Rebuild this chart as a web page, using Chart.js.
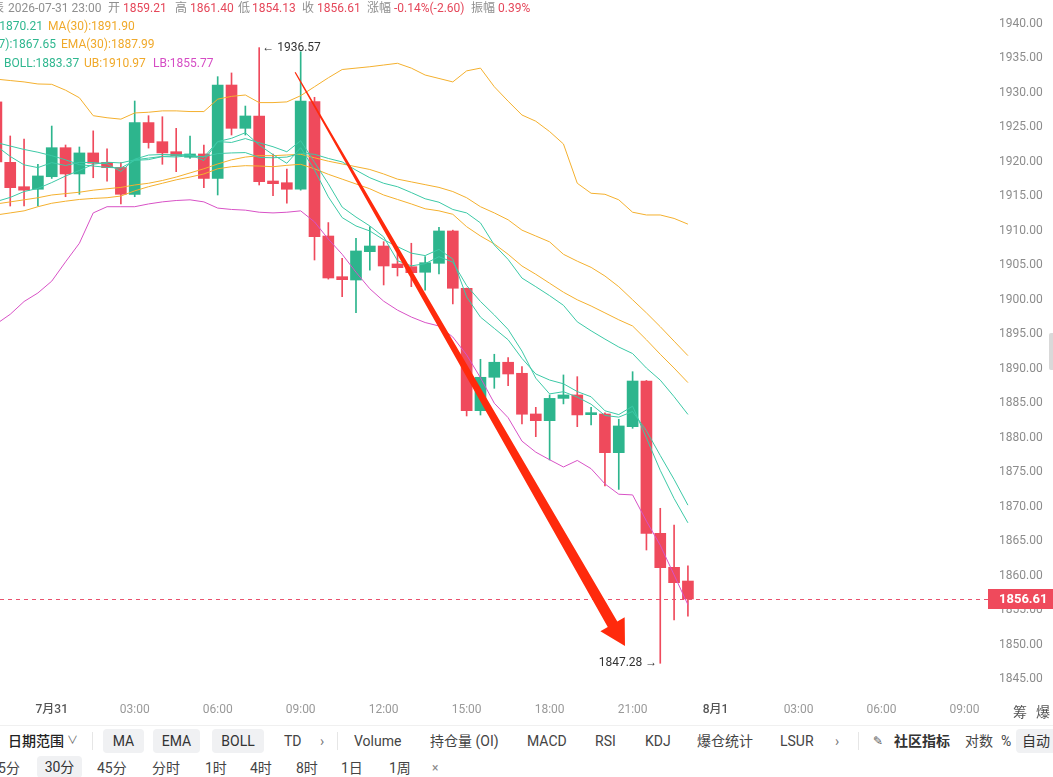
<!DOCTYPE html>
<html>
<head>
<meta charset="utf-8">
<script src="https://cdn.jsdelivr.net/npm/chart.js@4.4.1/dist/chart.umd.min.js"></script>
<style>
  body { margin: 0; width: 1053px; height: 777px; overflow: hidden; background: #fff; position: relative;
         font-family: Roboto, "Noto Sans CJK SC", sans-serif; }
  #c { position: absolute; left: 0; top: -40px; }
  .t { position: absolute; white-space: nowrap; font-size: 12px; line-height: 16px; }
  .g { color: #8f8f8f; }
  .r { color: #e5475a; }
  .teal { color: #2fb78f; }
  .org { color: #f0a92a; }
  .pink { color: #d54cc4; }
  .bar { position: absolute; white-space: nowrap; font-size: 14px; line-height: 20px; color: #444; }
  .btn { position: absolute; background: #f0f1f3; border-radius: 4px; font-size: 14px; color: #333;
         text-align: center; line-height: 24px; height: 24px; top: 729px; }
  .sep { position: absolute; top: 732px; width: 1px; height: 18px; background: #e6e6e6; }
</style>
</head>
<body>
<canvas id="c" width="1053" height="765"></canvas>

<!-- header -->
<div class="t g" style="right:1049px;top:0">表</div>
<div class="t g" style="left:8px;top:0">2026-07-31 23:00</div>
<div class="t g" style="left:108px;top:0">开</div><div class="t r" style="left:123px;top:0">1859.21</div>
<div class="t g" style="left:175px;top:0">高</div><div class="t r" style="left:190px;top:0">1861.40</div>
<div class="t g" style="left:238px;top:0">低</div><div class="t r" style="left:252px;top:0">1854.13</div>
<div class="t g" style="left:302px;top:0">收</div><div class="t r" style="left:317px;top:0">1856.61</div>
<div class="t g" style="left:367px;top:0">涨幅</div><div class="t r" style="left:394px;top:0">-0.14%(-2.60)</div>
<div class="t g" style="left:471px;top:0">振幅</div><div class="t r" style="left:498px;top:0">0.39%</div>

<div class="t teal" style="right:1010px;top:18px">MA(7):1870.21</div>
<div class="t org" style="left:48px;top:18px">MA(30):1891.90</div>
<div class="t teal" style="right:997px;top:36px">EMA(7):1867.65</div>
<div class="t org" style="left:61px;top:36px">EMA(30):1887.99</div>
<div class="t teal" style="left:4px;top:55px">BOLL:1883.37</div>
<div class="t org" style="left:84px;top:55px">UB:1910.97</div>
<div class="t pink" style="left:153px;top:55px">LB:1855.77</div>

<div style="position:absolute;left:1049px;top:333px;width:4px;height:37px;background:#d9d9d9;border-radius:2px 0 0 2px"></div>

<!-- toolbar -->
<div class="bar" style="left:1013px;top:702px;color:#555">筹</div>
<div class="bar" style="left:1036px;top:702px;color:#555">爆</div>
<div style="position:absolute;left:0;top:725px;width:1053px;height:1px;background:#f0f0f0"></div>

<div class="bar" style="left:8px;top:731px;color:#222;font-weight:500">日期范围</div>
<div class="bar" style="left:67px;top:731px;font-size:11px;color:#666">∨</div>
<div class="sep" style="left:92px"></div>
<div class="btn" style="left:103px;width:41px">MA</div>
<div class="btn" style="left:153px;width:47px">EMA</div>
<div class="btn" style="left:212px;width:52px">BOLL</div>
<div class="bar" style="left:284px;top:731px">TD</div>
<div class="bar" style="left:320px;top:731px;color:#777">›</div>
<div class="sep" style="left:337px"></div>
<div class="bar" style="left:354px;top:731px">Volume</div>
<div class="bar" style="left:430px;top:731px">持仓量 (OI)</div>
<div class="bar" style="left:527px;top:731px">MACD</div>
<div class="bar" style="left:595px;top:731px">RSI</div>
<div class="bar" style="left:645px;top:731px">KDJ</div>
<div class="bar" style="left:697px;top:731px">爆仓统计</div>
<div class="bar" style="left:780px;top:731px">LSUR</div>
<div class="bar" style="left:835px;top:731px;color:#777">›</div>
<div class="sep" style="left:858px"></div>
<div class="bar" style="left:873px;top:731px;font-family:'DejaVu Sans';font-size:12px;color:#555">✎</div>
<div class="bar" style="left:894px;top:731px;font-weight:700;color:#333">社区指标</div>
<div class="bar" style="left:965px;top:731px">对数</div>
<div class="bar" style="left:1001px;top:731px">%</div>
<div class="btn" style="left:1016px;width:40px">自动</div>

<div class="bar" style="right:1033px;top:758px">15分</div>
<div class="btn" style="left:37px;width:45px;top:756px;height:22px;line-height:22px">30分</div>
<div class="bar" style="left:97px;top:758px">45分</div>
<div class="bar" style="left:152px;top:758px">分时</div>
<div class="bar" style="left:205px;top:758px">1时</div>
<div class="bar" style="left:250px;top:758px">4时</div>
<div class="bar" style="left:296px;top:758px">8时</div>
<div class="bar" style="left:341px;top:758px">1日</div>
<div class="bar" style="left:389px;top:758px">1周</div>
<div class="bar" style="left:432px;top:758px;font-size:12px;color:#888">×</div>

<script>
// candle index 0 = 7/31 00:00, one step = 30 min; first candle is 7/30 22:00
const FIRST = -4;

const opens = [1928.7, 1919.94, 1916.4, 1916.03, 1917.85, 1922.06, 1918.25, 1921.3, 1919.94, 1919.2,
  1915.3, 1925.7, 1922.93, 1921.48, 1920.67, 1921.15, 1917.6, 1931.15, 1924.87, 1926.66,
  1917.23, 1916.98, 1916.03, 1928.73, 1909.25, 1903.35, 1902.87, 1906.98, 1907.8, 1905.2,
  1904.8, 1903.99, 1905.29, 1909.98, 1901.67, 1883.92, 1888.76, 1890.94, 1889.34, 1883.44,
  1882.47, 1885.7, 1886.2, 1883.34, 1883.44, 1877.83, 1881.6, 1888.22, 1866.13, 1861.2, 1859.21];
const highs = [1929.5, 1923.76, 1923.3, 1919.65, 1925.2, 1922.45, 1922.16, 1924.5, 1921.9, 1919.9,
  1928.83, 1926.7, 1926.55, 1924.87, 1923.76, 1922.45, 1932.36, 1932.9, 1928.1, 1936.57,
  1921.15, 1918.97, 1935.98, 1929.37, 1911.2, 1906.02, 1908.92, 1910.6, 1908.43, 1906.75,
  1908.2, 1906.25, 1910.5, 1910.1, 1901.7, 1891.37, 1892.1, 1891.6, 1890.3, 1884.4,
  1886.2, 1889.1, 1888.85, 1884.4, 1883.6, 1882.67, 1889.57, 1888.3, 1869.76, 1867.34, 1861.4];
const lows = [1918.8, 1913.6, 1913.6, 1913.6, 1917.6, 1914.95, 1915.3, 1917.7, 1917.2, 1913.9,
  1914.95, 1922.0, 1919.65, 1918.58, 1920.5, 1916.26, 1915.2, 1923.9, 1923.9, 1916.65,
  1915.1, 1914.0, 1915.9, 1905.77, 1903.0, 1900.45, 1898.13, 1904.3, 1902.15, 1903.45,
  1901.9, 1901.4, 1903.74, 1899.4, 1883.15, 1883.29, 1887.16, 1887.54, 1882.0, 1880.15,
  1876.77, 1884.9, 1881.6, 1881.84, 1873.0, 1872.5, 1881.36, 1863.71, 1847.28, 1853.56, 1854.13];
const closes = [1920.0, 1916.26, 1915.9, 1917.96, 1922.06, 1918.25, 1921.3, 1919.8, 1919.16, 1915.3,
  1925.7, 1922.8, 1921.3, 1920.9, 1921.15, 1917.6, 1931.15, 1924.87, 1926.66, 1917.13,
  1916.84, 1916.03, 1928.83, 1909.15, 1903.16, 1902.92, 1907.08, 1907.8, 1904.9, 1904.66,
  1903.93, 1905.38, 1909.98, 1901.67, 1883.92, 1888.76, 1890.94, 1889.24, 1883.4, 1882.47,
  1885.7, 1886.2, 1883.3, 1883.63, 1877.83, 1881.7, 1888.22, 1866.13, 1861.15, 1858.97, 1856.61];

const ma7 = [1922.8, 1922.3, 1921.8, 1921.4, 1920.9, 1920.3, 1919.6, 1919.4, 1919.2, 1919.12,
  1920.22, 1920.33, 1920.77, 1920.71, 1920.9, 1920.68, 1922.94, 1922.82, 1923.38, 1922.78,
  1922.2, 1921.47, 1923.07, 1919.93, 1916.83, 1913.44, 1912.0, 1910.71, 1909.12, 1905.67,
  1904.92, 1905.24, 1906.25, 1905.47, 1902.06, 1899.76, 1897.8, 1895.7, 1892.56, 1888.63,
  1886.35, 1886.67, 1885.89, 1884.85, 1883.22, 1882.98, 1883.8, 1881.0, 1877.42, 1873.95, 1870.21];
const ema7 = [1922.3, 1920.79, 1919.57, 1919.17, 1919.89, 1919.48, 1919.93, 1919.9, 1919.72, 1918.61,
  1920.39, 1920.99, 1921.07, 1921.03, 1921.06, 1920.2, 1922.94, 1923.42, 1924.23, 1922.45,
  1921.05, 1919.8, 1922.06, 1918.84, 1914.92, 1911.92, 1910.71, 1909.98, 1908.71, 1907.7,
  1906.76, 1906.41, 1907.31, 1905.9, 1900.41, 1897.49, 1895.85, 1894.2, 1891.5, 1889.24,
  1888.36, 1887.82, 1886.69, 1885.93, 1883.9, 1883.35, 1884.57, 1879.96, 1875.26, 1871.18, 1867.65];
const ma30 = [1913.9, 1914.2, 1914.5, 1914.8, 1915.2, 1915.4, 1915.6, 1915.9, 1916.1, 1916.3,
  1916.65, 1916.9, 1917.3, 1917.8, 1918.4, 1919.0, 1919.7, 1920.3, 1920.7, 1920.9,
  1920.9, 1921.0, 1921.1, 1920.6, 1920.1, 1919.7, 1919.3, 1918.9, 1918.25, 1917.5,
  1917.1, 1916.7, 1916.3, 1915.7, 1914.8, 1913.5, 1912.6, 1911.6, 1910.1, 1909.25,
  1908.4, 1906.6, 1905.6, 1904.7, 1903.45, 1901.9, 1900.0, 1898.1, 1896.1, 1894.0, 1891.9];
const ema30 = [1912.3, 1912.6, 1912.9, 1913.5, 1914.0, 1914.3, 1914.55, 1914.7, 1914.8, 1915.05,
  1915.8, 1916.4, 1916.9, 1917.4, 1917.8, 1918.25, 1919.0, 1919.3, 1919.45, 1919.4,
  1919.3, 1919.5, 1919.65, 1919.0, 1918.2, 1917.5, 1916.8, 1916.1, 1915.2, 1914.55,
  1913.9, 1913.2, 1912.9, 1912.4, 1910.6, 1909.25, 1908.1, 1906.6, 1904.9, 1903.7,
  1902.4, 1901.1, 1900.0, 1899.1, 1898.1, 1897.1, 1896.2, 1894.2, 1892.1, 1890.1, 1887.99];
const bollMid = [1914.25, 1914.85, 1915.7, 1916.15, 1917.0, 1917.95, 1918.75, 1919.65, 1919.95, 1919.85,
  1920.3, 1920.55, 1920.8, 1920.9, 1920.9, 1920.75, 1921.2, 1921.3, 1921.35, 1920.65,
  1920.6, 1920.7, 1921.25, 1921.1, 1920.5, 1920.0, 1918.8, 1917.7, 1916.9, 1916.4,
  1915.55, 1914.65, 1914.15, 1913.1, 1912.6, 1911.15, 1907.95, 1905.85, 1903.15, 1901.9,
  1900.6, 1899.2, 1896.8, 1895.5, 1894.3, 1893.15, 1892.2, 1890.1, 1888.35, 1885.95, 1883.37];
const bollUp = [1932.0, 1931.8, 1931.6, 1931.3, 1931.25, 1930.4, 1929.3, 1926.7, 1926.4, 1926.2,
  1927.1, 1927.2, 1927.4, 1927.4, 1927.3, 1927.3, 1929.1, 1929.5, 1929.7, 1928.6,
  1928.6, 1928.7, 1929.6, 1930.9, 1932.2, 1933.4, 1933.6, 1933.8, 1934.05, 1934.3,
  1933.6, 1932.6, 1932.1, 1931.6, 1933.2, 1933.6, 1930.9, 1928.8, 1926.8, 1925.9,
  1924.4, 1922.6, 1916.9, 1915.45, 1915.3, 1914.5, 1912.7, 1912.3, 1912.3, 1911.8, 1910.97];
const bollLow = [1896.5, 1897.9, 1899.75, 1900.99, 1902.7, 1905.5, 1908.2, 1912.6, 1913.5, 1913.5,
  1913.5, 1913.9, 1914.2, 1914.4, 1914.5, 1914.2, 1913.3, 1913.1, 1913.0, 1912.7,
  1912.6, 1912.7, 1912.9, 1911.3, 1908.8, 1906.6, 1904.0, 1901.6, 1899.8, 1898.5,
  1897.5, 1896.7, 1896.2, 1894.6, 1892.0, 1888.7, 1885.0, 1882.9, 1879.5, 1877.9,
  1876.8, 1875.75, 1876.7, 1875.5, 1873.3, 1871.8, 1871.7, 1867.9, 1864.4, 1860.1, 1855.77];

const xTickIdx = [0, 6, 12, 18, 24, 30, 36, 42, 48, 54, 60, 66];
const xTickLabels = ['7月31', '03:00', '06:00', '09:00', '12:00', '15:00', '18:00', '21:00', '8月1', '03:00', '06:00', '09:00'];
const yTicks = [1845, 1850, 1855, 1860, 1865, 1870, 1875, 1880, 1885, 1890, 1895, 1900,
  1905, 1910, 1915, 1920, 1925, 1930, 1935, 1940];

// drawn trend arrow, in (candle index, price)
const arrowFrom = [17.6, 1933.0];
const arrowTo = [41.45, 1849.8];

const X_MIN = -3.74, X_MAX = 67.48;
const Y_MIN = 1842.39, Y_MAX = 1943.48;

const UP = '#2db58d', DOWN = '#ef4a5c';
const TEAL = '#3cc9a6', ORANGE = '#f4b02e', PINK = '#d852c6';

const idx = closes.map((_, k) => FIRST + k);
const colors = closes.map((c, k) => (c >= opens[k] ? UP : DOWN));
const pts = arr => arr.map((v, k) => ({ x: idx[k], y: v }));

function lineSet(arr, color) {
  return { type: 'line', data: pts(arr), borderColor: color, borderWidth: 1, pointRadius: 0, order: 0 };
}

const marks = {
  id: 'marks',
  afterDatasetsDraw(chart) {
    const { ctx, chartArea, scales: { x, y } } = chart;
    ctx.save();

    // last price dashed line
    const last = closes[closes.length - 1];
    const py = Math.round(y.getPixelForValue(last));
    ctx.fillStyle = '#e9536f';
    for (let px = chartArea.left; px < chartArea.right + 3; px += 8) {
      ctx.fillRect(px, py, 4, 1);
    }

    // arrow
    const x0 = x.getPixelForValue(arrowFrom[0]), y0 = y.getPixelForValue(arrowFrom[1]);
    const x1 = x.getPixelForValue(arrowTo[0]), y1 = y.getPixelForValue(arrowTo[1]);
    const len = Math.hypot(x1 - x0, y1 - y0);
    const ux = (x1 - x0) / len, uy = (y1 - y0) / len, nx = -uy, ny = ux;
    const headLen = 25, headW = 14, w0 = 0.6, w1 = 5.5;
    const bx = x1 - ux * headLen, by = y1 - uy * headLen;
    ctx.fillStyle = '#ff2a0c';
    ctx.beginPath();
    ctx.moveTo(x0 + nx * w0, y0 + ny * w0);
    ctx.lineTo(bx + nx * w1, by + ny * w1);
    ctx.lineTo(bx + nx * headW, by + ny * headW);
    ctx.lineTo(x1, y1);
    ctx.lineTo(bx - nx * headW, by - ny * headW);
    ctx.lineTo(bx - nx * w1, by - ny * w1);
    ctx.lineTo(x0 - nx * w0, y0 - ny * w0);
    ctx.closePath();
    ctx.fill();

    // max / min labels
    let hi = 0, lo = 0;
    highs.forEach((v, k) => { if (v > highs[hi]) hi = k; });
    lows.forEach((v, k) => { if (v < lows[lo]) lo = k; });
    ctx.font = '12px Roboto, sans-serif';
    ctx.fillStyle = '#333';
    ctx.textBaseline = 'middle';
    ctx.textAlign = 'left';
    ctx.fillText('← ' + highs[hi].toFixed(2), x.getPixelForValue(idx[hi]) + 3, y.getPixelForValue(highs[hi]));
    ctx.textAlign = 'right';
    ctx.fillText(lows[lo].toFixed(2) + ' →', x.getPixelForValue(idx[lo]) - 3, y.getPixelForValue(lows[lo]));

    // last price tag
    ctx.fillStyle = '#ef4a5c';
    ctx.fillRect(chartArea.right + 3, py - 10, chart.width - chartArea.right - 3, 20);
    ctx.fillStyle = '#fff';
    ctx.font = 'bold 13px Roboto, sans-serif';
    ctx.textAlign = 'left';
    ctx.fillText(last.toFixed(2), chartArea.right + 14, py + 0.5);
    ctx.restore();
  }
};

Chart.defaults.font.family = 'Roboto, "Noto Sans CJK SC", sans-serif';

new Chart(document.getElementById('c'), {
  type: 'bar',
  data: {
    datasets: [
      lineSet(ma7, TEAL),
      lineSet(ema7, TEAL),
      lineSet(bollMid, TEAL),
      lineSet(ma30, ORANGE),
      lineSet(ema30, ORANGE),
      lineSet(bollUp, ORANGE),
      lineSet(bollLow, PINK),
      {
        data: idx.map((v, k) => ({ x: v, y: [opens[k], closes[k]] })),
        backgroundColor: colors, barThickness: 11, minBarLength: 1, grouped: false, order: 1
      },
      {
        data: idx.map((v, k) => ({ x: v, y: [lows[k], highs[k]] })),
        backgroundColor: colors, barThickness: 1, grouped: false, order: 2
      }
    ]
  },
  options: {
    responsive: false,
    animation: false,
    devicePixelRatio: 1,
    layout: { padding: { top: 40, left: 0, right: 0, bottom: 0 } },
    plugins: { legend: { display: false }, tooltip: { enabled: false } },
    scales: {
      x: {
        type: 'linear',
        min: X_MIN,
        max: X_MAX,
        offset: false,
        grid: { display: false, drawTicks: false, offset: false },
        border: { display: false },
        afterBuildTicks: s => { s.ticks = xTickIdx.map(v => ({ value: v })); },
        afterFit: s => { s.height = 28; },
        ticks: {
          autoSkip: false,
          maxRotation: 0,
          padding: 6,
          callback: (v, i) => xTickLabels[i],
          color: c => (String(xTickLabels[c.index]).includes('月') ? '#555' : '#999'),
          font: c => ({ size: 12, weight: String(xTickLabels[c.index]).includes('月') ? '500' : '400' })
        }
      },
      y: {
        position: 'right',
        min: Y_MIN,
        max: Y_MAX,
        grid: { display: false, drawTicks: false },
        border: { display: false },
        afterBuildTicks: s => { s.ticks = yTicks.map(v => ({ value: v })); },
        afterFit: s => { s.width = 68; },
        ticks: {
          padding: 14,
          color: '#8c8c8c',
          font: { size: 12 },
          callback: v => Number(v).toFixed(2)
        }
      }
    }
  },
  plugins: [marks]
});
</script>
</body>
</html>
